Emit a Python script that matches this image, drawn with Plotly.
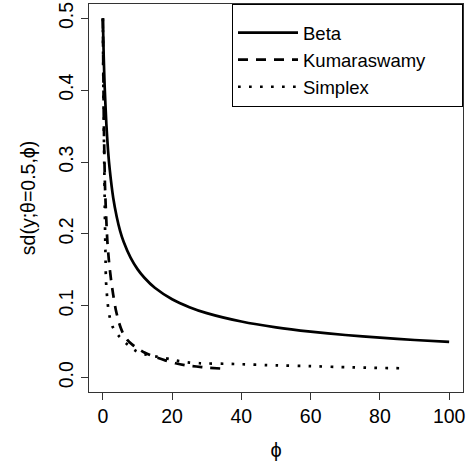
import plotly.graph_objects as go

# Values
beta_phi = [0, 0.25, 0.5, 1, 1.5, 2, 3, 4, 5, 6, 8, 10, 12, 15, 20, 25, 30, 40, 50, 60, 70, 80, 90, 100]
beta_sd = [0.5, 0.447, 0.408, 0.354, 0.316, 0.289, 0.25, 0.224, 0.204, 0.189, 0.167, 0.151, 0.139,
           0.125, 0.1091, 0.0981, 0.0898, 0.0781, 0.0700, 0.0640, 0.0593, 0.0556, 0.0524, 0.0498]

kum_phi = [0, 0.3, 0.6, 0.9, 1.3, 1.8, 2.4, 3, 3.8, 4.7, 5.7, 7, 8.5, 10, 12, 15, 18, 21, 24, 27, 30, 34.5]
kum_sd = [0.5, 0.35, 0.27, 0.23, 0.19, 0.16, 0.135, 0.115, 0.093, 0.076, 0.063, 0.053, 0.046, 0.041,
          0.035, 0.029, 0.024, 0.020, 0.017, 0.0155, 0.014, 0.0125]

simp_phi = [0, 0.2, 0.4, 0.6, 0.8, 0.9, 1.4, 1.9, 2.8, 4.6, 6.7, 9.6, 12.5, 15.8, 19.2, 22, 25, 28, 38,
            50, 60, 70, 86]
simp_sd = [0.5, 0.38, 0.3, 0.22, 0.16, 0.135, 0.103, 0.086, 0.071, 0.058, 0.048, 0.037, 0.032, 0.029,
           0.026, 0.023, 0.021, 0.020, 0.019, 0.017, 0.016, 0.0145, 0.013]

x_ticks = [0, 20, 40, 60, 80, 100]
y_ticks = [0.0, 0.1, 0.2, 0.3, 0.4, 0.5]
y_tick_labels = ["0.0", "0.1", "0.2", "0.3", "0.4", "0.5"]

series_names = ["Beta", "Kumaraswamy", "Simplex"]

FONT = "Liberation Sans, Arial, sans-serif"
PAD = "\u00a0" * 6

fig = go.Figure()
fig.add_trace(go.Scatter(x=beta_phi, y=beta_sd, mode="lines", name=series_names[0],
                         line=dict(color="black", width=2.7, shape="spline", smoothing=0.6)))
fig.add_trace(go.Scatter(x=kum_phi, y=kum_sd, mode="lines", name=series_names[1] + PAD,
                         line=dict(color="black", width=2.7, dash="10px,8px", shape="spline", smoothing=0.6)))
fig.add_trace(go.Scatter(x=simp_phi, y=simp_sd, mode="lines", name=series_names[2],
                         line=dict(color="black", width=2.7, dash="2.7px,8.3px", shape="spline", smoothing=0.6)))

axis_common = dict(showline=True, mirror=True, linecolor="#333333", linewidth=1,
                   ticks="outside", ticklen=7, tickcolor="#333333", showgrid=False, zeroline=False,
                   ticklabeloverflow="allow",
                   tickfont=dict(family=FONT, size=19.5, color="black"))

fig.update_layout(
    width=472, height=466,
    margin=dict(l=89, r=9, t=2, b=74),
    paper_bgcolor="white", plot_bgcolor="white",
    font=dict(family=FONT, size=19.5, color="black"),
    xaxis=dict(range=[-4, 104], tickvals=x_ticks, **axis_common,
               title=dict(text="ϕ", font=dict(family=FONT, size=20), standoff=16)),
    yaxis=dict(range=[-0.02, 0.52], tickvals=y_ticks, ticktext=y_tick_labels, tickangle=-90,
               **axis_common,
               title=dict(text="sd(y;θ=0.5,ϕ)", font=dict(family=FONT, size=19.5), standoff=14)),
    legend=dict(x=1, y=1, xanchor="right", yanchor="top", bordercolor="black", borderwidth=1,
                bgcolor="white", font=dict(family=FONT, size=18.5), itemwidth=60,
                tracegroupgap=0,
                title=dict(text="\u00a0", font=dict(size=7))),
    showlegend=True,
)

fig.write_html("out.html")
